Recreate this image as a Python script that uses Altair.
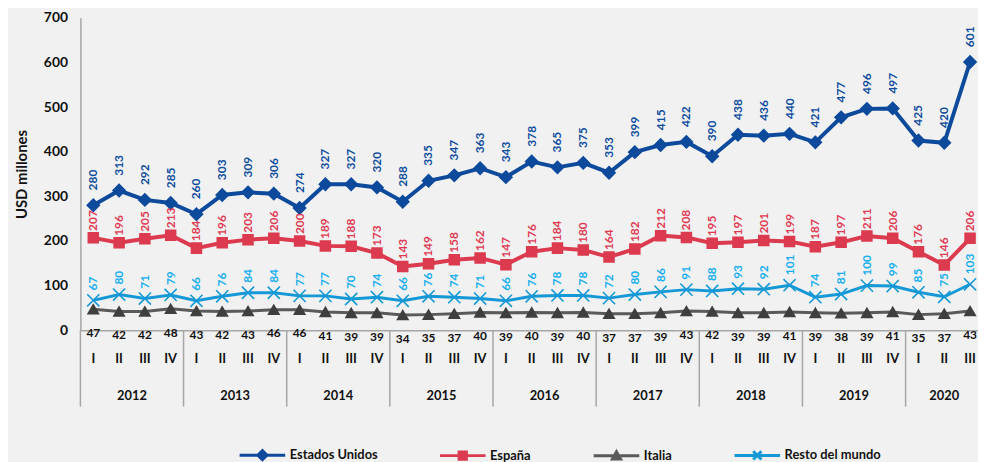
import altair as alt
import pandas as pd

years = [2012, 2013, 2014, 2015, 2016, 2017, 2018, 2019, 2020]
quarter_names = ["I", "II", "III", "IV"]
series_names = ["Estados Unidos", "España", "Italia", "Resto del mundo"]

eeuu = [280, 313, 292, 285, 260, 303, 309, 306, 274, 327, 327, 320, 288, 335, 347, 363, 343, 378,
        365, 375, 353, 399, 415, 422, 390, 438, 436, 440, 421, 477, 496, 497, 425, 420, 601]
espana = [207, 196, 205, 213, 184, 196, 203, 206, 200, 189, 188, 173, 143, 149, 158, 162, 147, 176,
          184, 180, 164, 182, 212, 208, 195, 197, 201, 199, 187, 197, 211, 206, 176, 146, 206]
italia = [47, 42, 42, 48, 43, 42, 43, 46, 46, 41, 39, 39, 34, 35, 37, 40, 39, 40,
          39, 40, 37, 37, 39, 43, 42, 39, 39, 41, 39, 38, 39, 41, 35, 37, 43]
resto = [67, 80, 71, 79, 66, 76, 84, 84, 77, 77, 70, 74, 66, 76, 74, 71, 66, 76,
         78, 78, 72, 80, 86, 91, 88, 93, 92, 101, 74, 81, 100, 99, 85, 75, 103]

line_colors = ["#0d4a9c", "#dc3a4f", "#5a5a5a", "#1598d6"]
marker_colors = ["#0d4a9c", "#dc3a4f", "#3f3f3f", "#1598d6"]
label_colors = ["#0d4c9e", "#e03a52", "#111111", "#16aef0"]
line_widths = [4, 4, 3, 3]
FONT = "Lato"

n = len(eeuu)
rows = []
for name, vals in zip(series_names, [eeuu, espana, italia, resto]):
    for i, v in enumerate(vals):
        rows.append({"idx": i, "series": name, "value": v})
df = pd.DataFrame(rows)

qdf = pd.DataFrame({"idx": list(range(n)), "q": [quarter_names[i % 4] for i in range(n)]})
counts = [min(4, n - 4 * k) for k in range(len(years))]
ydf = pd.DataFrame({
    "year": [str(y) for y in years],
    "center": [4 * k + (c - 1) / 2 for k, c in enumerate(counts)],
    "sep": [4 * k - 0.5 for k in range(len(years))],
})

BAND = 26
W = 905
H = 315
xscale = alt.Scale(domain=[-0.5, -0.5 + W / BAND], nice=False, zero=False)
yscale = alt.Scale(domain=[0, 700], nice=False)

X = alt.X("idx:Q", scale=xscale,
          axis=alt.Axis(labels=False, ticks=False, grid=False, title=None,
                        domainColor="#a6a6a6", domainWidth=1.5))
Y = alt.Y("value:Q", scale=yscale,
          axis=alt.Axis(values=[0, 100, 200, 300, 400, 500, 600, 700], ticks=False, grid=False,
                        title="USD millones", titleFontSize=15, titleFont=FONT,
                        titleFontWeight="bold", titleColor="#111111", titlePadding=14,
                        labelFontSize=14, labelFont=FONT, labelFontWeight="bold",
                        labelColor="#111111", labelPadding=13,
                        domainColor="#a6a6a6", domainWidth=1.5))

# legend symbols: a line segment with the series marker in the middle
P_D = "M-1,0L1,0M0,-0.2L0.2,0L0,0.2L-0.2,0Z"
P_S = "M-1,0L1,0M-0.16,-0.16L0.16,-0.16L0.16,0.16L-0.16,0.16Z"
P_T = "M-1,0L1,0M-0.18,0.14L0,-0.18L0.18,0.14Z"
P_X = "M-1,0L1,0M-0.18,-0.18L0.18,0.18M-0.18,0.18L0.18,-0.18"
leg_paths = [P_D, P_S, P_T, P_X]

legend = alt.Legend(
    title=None, orient="none", legendX=159, legendY=416, direction="horizontal", columns=4,
    labelFont=FONT, labelFontSize=13, labelFontWeight="bold", labelColor="#111111",
    symbolSize=2116, symbolStrokeWidth=3, labelOffset=3, columnPadding=56, padding=0,
)

base = alt.Chart(df)

legend_layer = base.transform_filter("false").mark_point(filled=True, opacity=1).encode(
    x=X, y=Y,
    color=alt.Color("series:N", scale=alt.Scale(domain=series_names, range=line_colors),
                    legend=legend),
    stroke=alt.Stroke("series:N", scale=alt.Scale(domain=series_names, range=line_colors),
                      legend=legend),
    shape=alt.Shape("series:N", scale=alt.Scale(domain=series_names, range=leg_paths),
                    legend=legend),
)

line_layers = []
for name, col, sw in zip(series_names, line_colors, line_widths):
    line_layers.append(
        base.transform_filter(alt.datum.series == name).mark_line(color=col, strokeWidth=sw)
        .encode(x=X, y=Y)
    )

X_SHAPE = "M-1,-1L1,1M-1,1L1,-1"
marker_shapes = ["diamond", "square", "triangle-up", X_SHAPE]
marker_sizes = [150, 100, 110, 150]

point_layers = []
for name, shp, col, sz in zip(series_names, marker_shapes, marker_colors, marker_sizes):
    point_layers.append(
        base.transform_filter(alt.datum.series == name).mark_point(
            shape=shp, filled=True, fill=col, stroke=col, strokeWidth=1.6, size=sz, opacity=1
        ).encode(x=X, y=Y)
    )

def vlabels(name, color, dx):
    return base.transform_filter(alt.datum.series == name).mark_text(
        angle=270, align="left", baseline="middle", dx=dx, font=FONT, fontSize=12,
        fontWeight="bold", color=color,
    ).encode(x=X, y=Y, text="value:Q", angle=alt.value(270))

lab_us = vlabels(series_names[0], label_colors[0], 15)
lab_es = vlabels(series_names[1], label_colors[1], 7)
lab_rm = vlabels(series_names[3], label_colors[3], 10)
lab_it = base.transform_filter(alt.datum.series == series_names[2]).mark_text(
    baseline="middle", dy=24, font=FONT, fontSize=12, fontWeight="bold", color=label_colors[2]
).encode(x=X, y=Y, text="value:Q")

qlabels = alt.Chart(qdf).mark_text(
    baseline="middle", font=FONT, fontSize=13, fontWeight="bold", color="#111111"
).encode(x=alt.X("idx:Q", scale=xscale), y=alt.value(344), text="q:N")

ylabels = alt.Chart(ydf).mark_text(
    baseline="middle", font=FONT, fontSize=13, fontWeight="bold", color="#111111"
).encode(x=alt.X("center:Q", scale=xscale), y=alt.value(381), text="year:N")

seps = alt.Chart(ydf).mark_rule(color="#a6a6a6", strokeWidth=1.5).encode(
    x=alt.X("sep:Q", scale=xscale), y=alt.value(H), y2=alt.value(392)
)

chart = alt.layer(
    legend_layer, seps, *line_layers, *point_layers, lab_it, lab_rm, lab_es, lab_us, qlabels, ylabels
).properties(
    width=W, height=H,
    autosize=alt.AutoSizeParams(type="none"),
    padding={"left": 73, "top": 8, "right": 0, "bottom": 139},
    background="#f1f1f1",
).configure_view(stroke=None)

chart.save("out.html", embed_options={"renderer": "svg", "actions": False})
